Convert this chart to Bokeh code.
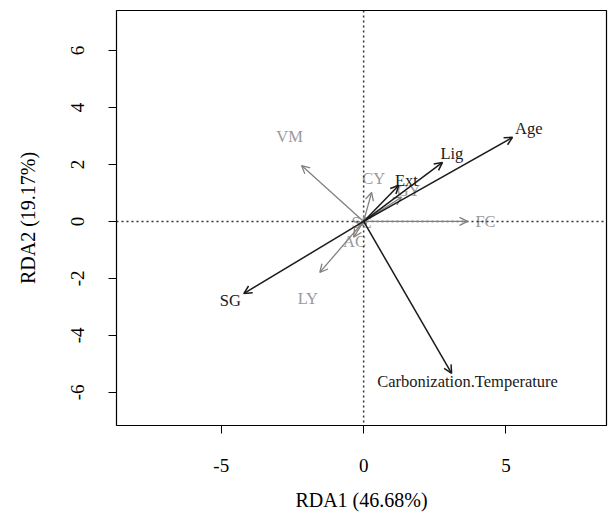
from bokeh.plotting import figure
from bokeh.models import ColumnDataSource, Arrow, OpenHead, FixedTicker, Span, Range1d
from bokeh.core.properties import value
from bokeh.embed import file_html
from bokeh.resources import INLINE

# explanatory variables (black arrows)
env_names = ["Age", "Lig", "Ext", "Carbonization.Temperature", "SG"]
env_x = [5.23, 2.77, 1.23, 3.09, -4.21]
env_y = [2.95, 2.07, 1.26, -5.33, -2.53]
env_lx = [5.8, 3.1, 1.5, 3.65, -4.68]
env_ly = [3.25, 2.4, 1.45, -5.6, -2.77]

# response variables (grey arrows)
resp_names = ["VM", "CY", "GY", "FC", "LY", "AC", "SC"]
resp_x = [-2.18, 0.28, 1.33, 3.65, -1.54, -0.35, 0.1]
resp_y = [1.96, 1.02, 0.85, 0.0, -1.79, -0.55, -0.1]
resp_lx = [-2.6, 0.35, 1.58, 4.28, -1.96, -0.32, -0.07]
resp_ly = [2.98, 1.5, 1.09, 0.0, -2.7, -0.7, -0.04]

x_ticks = [-5, 0, 5]
y_ticks = [-6, -4, -2, 0, 2, 4, 6]

FONT = "Liberation Serif"

p = figure(width=608, height=521, output_backend="svg", toolbar_location=None,
           x_range=Range1d(-8.68, 8.53), y_range=Range1d(-7.16, 7.4),
           min_border_left=116, min_border_right=2, min_border_top=10, min_border_bottom=96)
p.grid.visible = False
p.outline_line_color = "black"
p.outline_line_width = 1.2
p.background_fill_color = "white"

for ax, ticks in ((p.xaxis, x_ticks), (p.yaxis, y_ticks)):
    ax.ticker = FixedTicker(ticks=ticks)
    ax.major_label_overrides = {t: str(t) for t in ticks}
    ax.minor_tick_line_color = None
    ax.axis_line_color = None
    ax.major_tick_out = 8
    ax.major_tick_in = 0
    ax.major_tick_line_color = "black"
    ax.major_label_text_font = FONT
    ax.major_label_text_font_size = "19px"
    ax.major_label_text_color = "black"
    ax.axis_label_text_font = FONT
    ax.axis_label_text_font_style = "normal"
    ax.axis_label_text_font_size = "20px"
    ax.axis_label_text_color = "black"

p.xaxis.axis_label = "RDA1 (46.68%)"
p.yaxis.axis_label = "RDA2 (19.17%)"
p.xaxis.major_label_standoff = 25
p.xaxis.axis_label_standoff = 14
p.yaxis.major_label_orientation = "parallel"
p.yaxis.major_label_standoff = 24
p.yaxis.axis_label_standoff = 30

p.add_layout(Span(location=0, dimension="width", line_color="#333333", line_dash="2 3", line_width=1.5))
p.add_layout(Span(location=0, dimension="height", line_color="#333333", line_dash="2 3", line_width=1.5))

resp_src = ColumnDataSource(dict(x0=[0]*len(resp_x), y0=[0]*len(resp_y), x1=resp_x, y1=resp_y))
p.add_layout(Arrow(source=resp_src, x_start="x0", y_start="y0", x_end="x1", y_end="y1",
                   line_color="#808080", line_width=1.3,
                   end=OpenHead(size=8, line_color="#808080", line_width=1.3)))

env_src = ColumnDataSource(dict(x0=[0]*len(env_x), y0=[0]*len(env_y), x1=env_x, y1=env_y))
p.add_layout(Arrow(source=env_src, x_start="x0", y_start="y0", x_end="x1", y_end="y1",
                   line_color="#1a1a1a", line_width=1.5,
                   end=OpenHead(size=8, line_color="#1a1a1a", line_width=1.5)))

p.text(x=resp_lx, y=resp_ly, text=resp_names, text_font=value(FONT), text_font_size="16.5px",
       text_color="#9a9a9a", text_align="center", text_baseline="middle")
p.text(x=env_lx, y=env_ly, text=env_names, text_font=value(FONT), text_font_size="16.5px",
       text_color="#1a1a1a", text_align="center", text_baseline="middle")

open("out.html", "w").write(file_html(p, INLINE))
